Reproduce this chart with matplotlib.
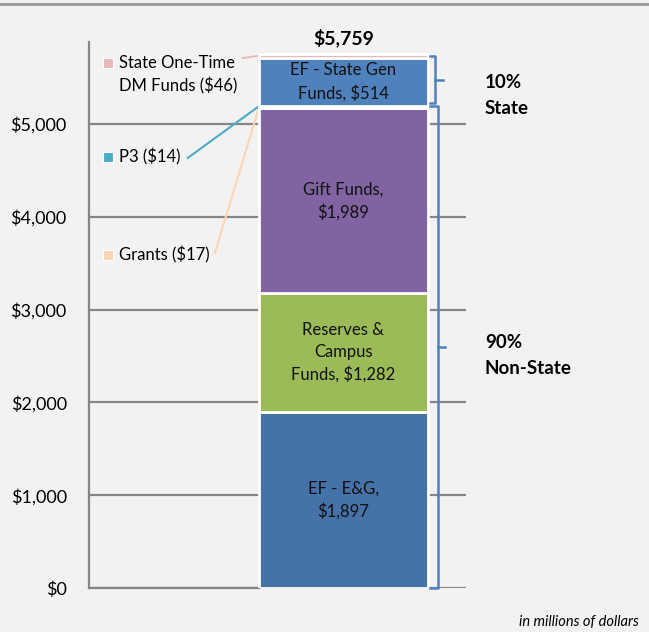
import matplotlib.pyplot as plt
from matplotlib.lines import Line2D

plt.rcParams['font.family'] = ['Lato', 'DejaVu Sans']

# stacked funding sources, bottom to top (millions of dollars)
segments = ['EF - E&G', 'Reserves & Campus Funds', 'Gift Funds', 'Grants', 'P3',
            'EF - State Gen Funds', 'State One-Time DM Funds']
values = [1897, 1282, 1989, 17, 14, 514, 46]
colors = ['#4572a7', '#9bbb59', '#8064a2', '#fcd5b5', '#4bacc6', '#4f81bd', '#e6b9b8']
inner_labels = ['EF - E&G,\n$1,897', 'Reserves &\nCampus\nFunds, $1,282', 'Gift Funds,\n$1,989',
                None, None, 'EF - State Gen\nFunds, $514', None]
total_label = '$5,759'
yticks = [0, 1000, 2000, 3000, 4000, 5000]
ytick_labels = ['$0', '$1,000', '$2,000', '$3,000', '$4,000', '$5,000']

bg = '#f2f2f2'
fig = plt.figure(figsize=(6.49, 6.32), dpi=100, facecolor=bg)
ax = fig.add_axes([0.137, 0.0696, 0.581, 0.8634], facecolor=bg)
ax.set_xlim(0, 1)
ax.set_ylim(0, 5880)

xc, w = 0.675, 0.448
bottoms = []
b = 0
for v, c in zip(values, colors):
    bottoms.append(b)
    ax.bar(xc, v, w, bottom=b, color=c, edgecolor='white', linewidth=2, zorder=3)
    b += v
total = b

for v, bt, lab in zip(values, bottoms, inner_labels):
    if lab:
        ax.text(xc, bt + v / 2, lab, ha='center', va='center', fontsize=12,
                color='#111111', linespacing=1.45, zorder=4)

ax.text(xc, 5927, total_label, ha='center', va='center', fontsize=14,
        fontweight='bold', clip_on=False)

# grid + axes
ax.set_yticks(yticks)
ax.set_yticklabels(ytick_labels, fontsize=13)
ax.tick_params(axis='y', length=0, pad=16)
ax.set_xticks([])
ax.grid(axis='y', color='#868686', linewidth=1.6, zorder=1)
for s in ['top', 'right']:
    ax.spines[s].set_visible(False)
for s in ['left', 'bottom']:
    ax.spines[s].set_color('#868686')
    ax.spines[s].set_linewidth(1.6)
ax.spines['bottom'].set_bounds(0, xc - w / 2)

# small segment callouts on the left
left = xc - w / 2
one_time_mid = bottoms[6] + values[6] / 2
p3_mid = bottoms[4] + values[4] / 2
grants_mid = bottoms[3] + values[3] / 2
ax.plot([0.408, left], [one_time_mid - 25, one_time_mid], color=colors[6], lw=1.3, zorder=2)
ax.plot([0.262, left], [4634, p3_mid], color=colors[4], lw=1.5, zorder=2)
ax.plot([0.334, left], [3610, grants_mid], color=colors[3], lw=1.5, zorder=2)

callouts = [(5657, 5530, colors[6], 'State One-Time\nDM Funds ($46)'),
            (4644, 4644, colors[4], 'P3 ($14)'),
            (3588, 3588, colors[3], 'Grants ($17)')]
for ysq, ytx, c, t in callouts:
    ax.scatter([0.05], [ysq], marker='s', s=55, color=c, edgecolors='white', linewidths=0.8, zorder=4)
    ax.text(0.08, ytx, t, ha='left', va='center', fontsize=12, linespacing=1.4)

# brackets
bl = '#4f81bd'
def bracket(y0, y1, x0, xv, xt):
    ym = (y0 + y1) / 2
    ax.plot([x0, xv, xv, x0], [y0, y0, y1, y1], color=bl, lw=1.8, clip_on=False, zorder=5)
    ax.plot([xv, xt], [ym, ym], color=bl, lw=1.8, clip_on=False, zorder=5)

bracket(bottoms[5] + 25, total - 25, xc + w / 2 + 0.005, 0.917, 0.94)
bracket(0, bottoms[5], xc + w / 2 + 0.005, 0.925, 0.945)

ax.text(1.05, 5310, '10%\nState', ha='left', va='center', fontsize=13.5,
        fontweight='bold', linespacing=1.65, clip_on=False)
ax.text(1.05, 2505, '90%\nNon-State', ha='left', va='center', fontsize=13.5,
        fontweight='bold', linespacing=1.7, clip_on=False)

fig.text(0.985, 0.004, 'in millions of dollars', ha='right', va='bottom',
         fontsize=10.5, style='italic')
fig.add_artist(Line2D([0, 1], [0.994, 0.994], color='#999999', lw=2,
                      transform=fig.transFigure))

fig.savefig('out.png', dpi=100, facecolor=bg)
